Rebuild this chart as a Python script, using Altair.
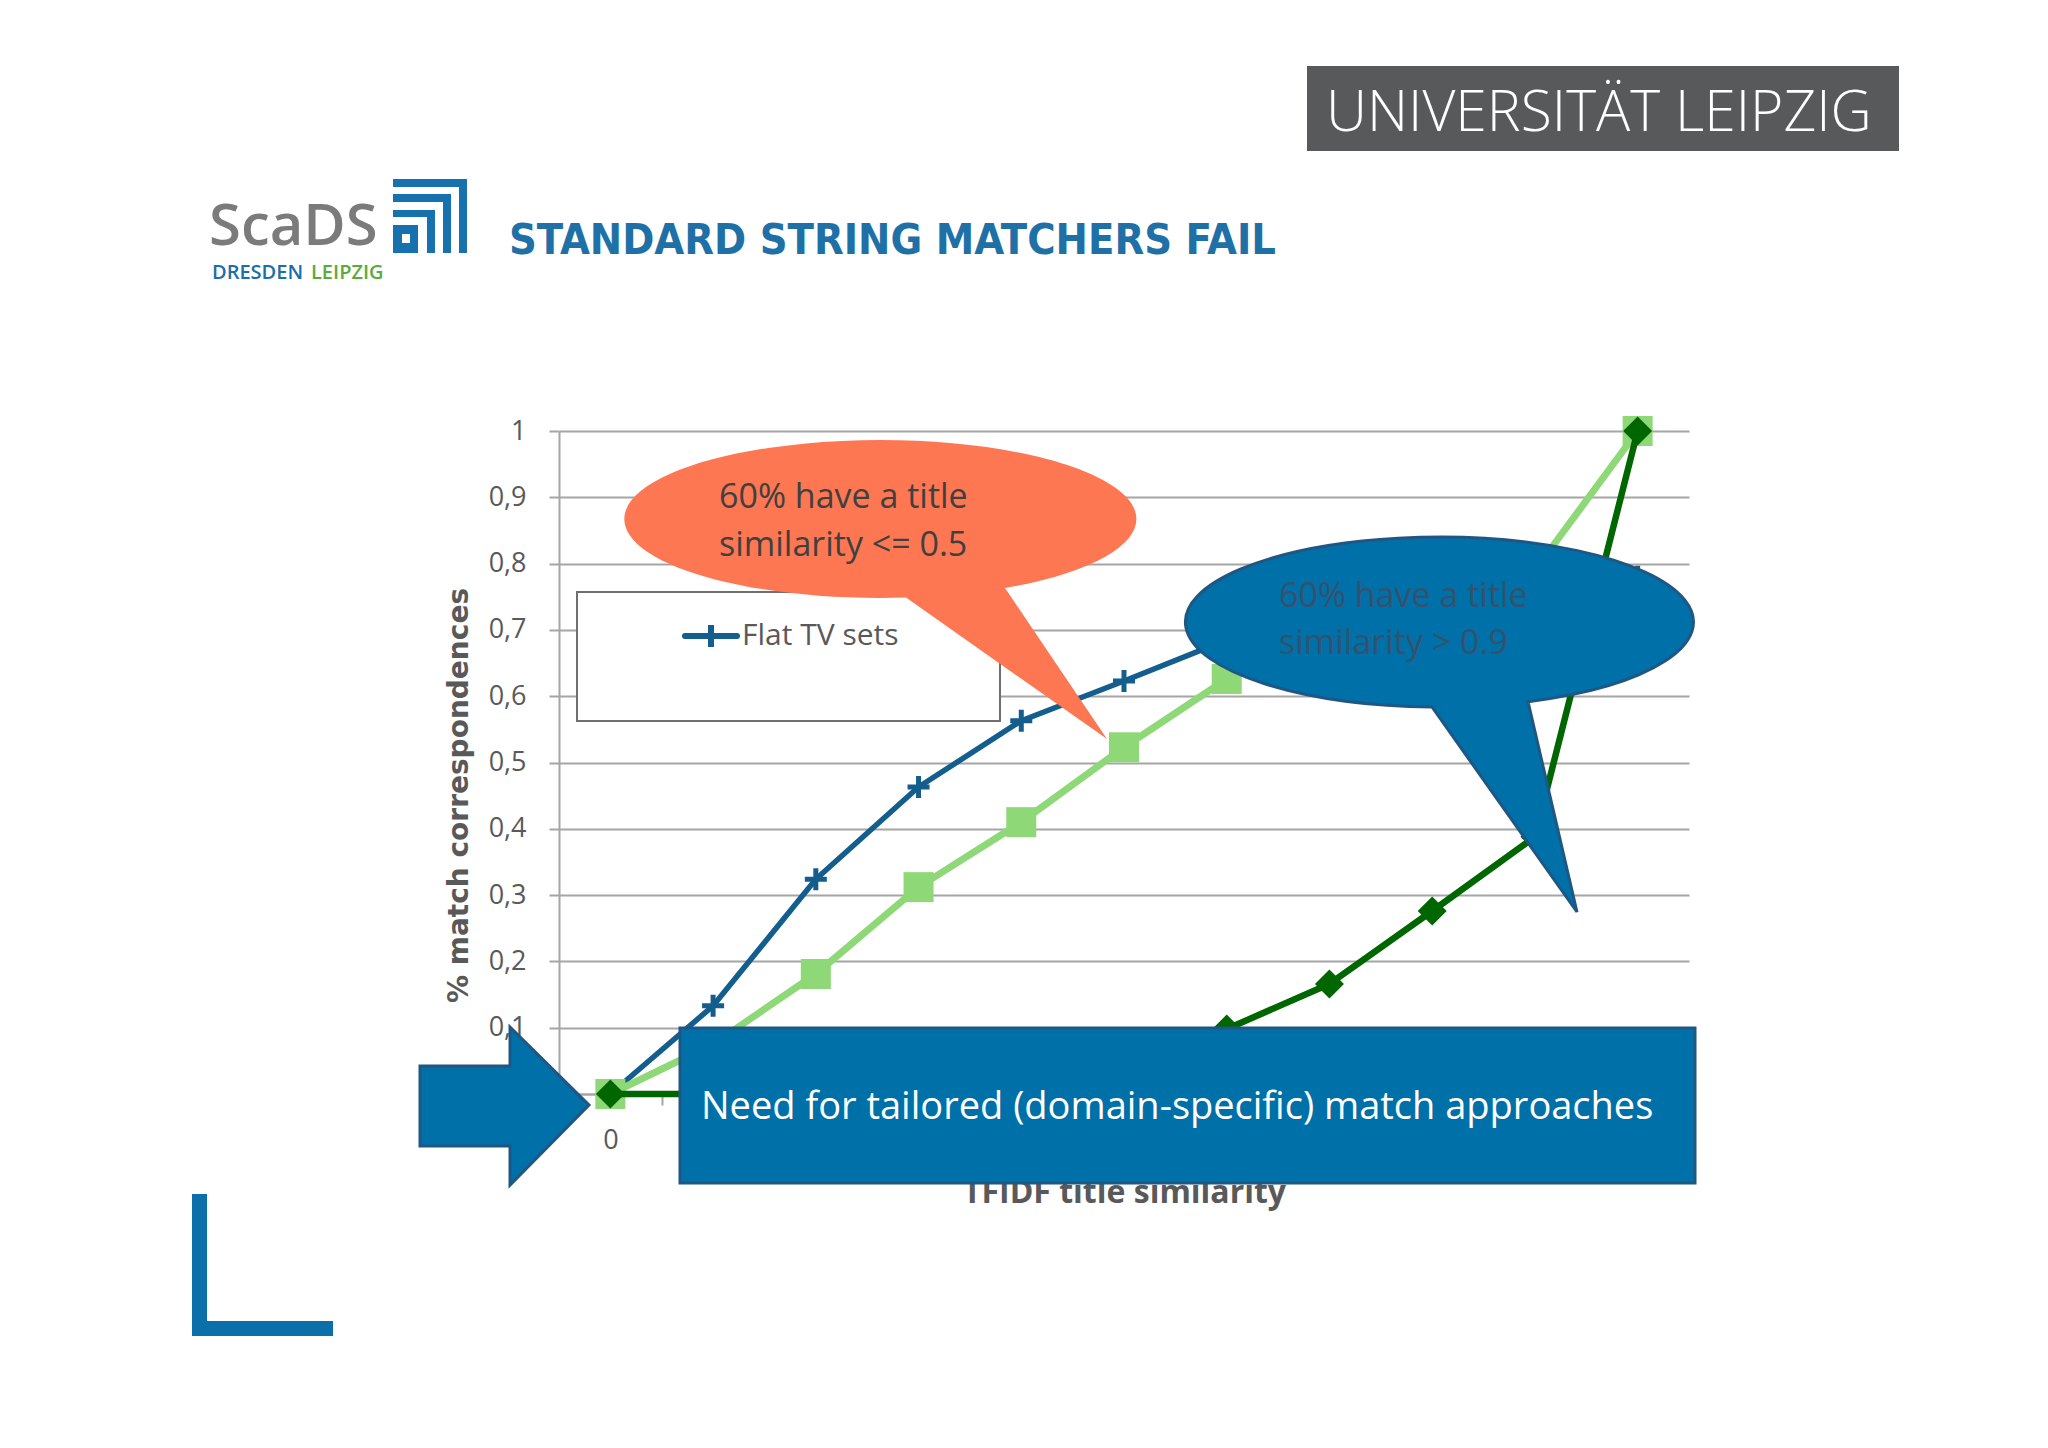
import altair as alt
import pandas as pd

# ---------------- data ----------------
similarity = [0.0, 0.1, 0.2, 0.3, 0.4, 0.5, 0.6, 0.7, 0.8, 0.9, 1.0]
flat_tv = [0.0, 0.133, 0.324, 0.463, 0.563, 0.623, 0.685, 0.72, 0.75, 0.77, 0.78]
series_light = [0.0, 0.075, 0.181, 0.312, 0.41, 0.523, 0.626, 0.69, 0.74, 0.79, 1.0]
series_dark = [0.0, 0.0, 0.01, 0.02, 0.04, 0.06, 0.098, 0.166, 0.276, 0.388, 1.0]
y_ticks = [0.0, 0.1, 0.2, 0.3, 0.4, 0.5, 0.6, 0.7, 0.8, 0.9, 1.0]
series_names = ["Flat TV sets", "Series 2", "Series 3"]
x_title = "TFIDF title similarity"
y_title = "% match correspondences"

BLUE_LINE = "#135E8D"
LIGHT_GREEN = "#8FD878"
DARK_GREEN = "#006600"
SHAPE_BLUE = "#0070A8"
SHAPE_EDGE = "#1F5784"
ORANGE = "#FD7753"
GRAY_TXT = "#595959"
GRID = "#A5A5A5"

W, H = 1130, 663
OX, OY = 559, 431          # page position of the plot origin
half = W / len(similarity) / 2

long = pd.concat([
    pd.DataFrame({"sim": similarity, "value": vals, "series": name})
    for name, vals in zip(series_names, [flat_tv, series_light, series_dark])
], ignore_index=True)

comma = "replace(format(datum.value, '~g'), '.', ',')"
# only the first category label is visible (the rest sit under the callout box)
x_label = "datum.value == 0 ? '0' : ''"

X = alt.X("sim:Q",
          scale=alt.Scale(domain=[-0.05, 1.05], nice=False, zero=False),
          axis=alt.Axis(values=similarity, labelExpr=x_label, grid=False,
                        tickOffset=half, labelOffset=-half, tickSize=11,
                        tickColor=GRID, tickWidth=2, domainColor=GRID, domainWidth=2,
                        labelFont="Open Sans", labelFontSize=27, labelColor=GRAY_TXT,
                        labelPadding=22, title=x_title, titleFont="Open Sans",
                        titleFontSize=32, titleFontWeight="bold", titleColor=GRAY_TXT,
                        titleX=1124 - OX, titleY=1203 - 1095, titleAlign="center",
                        titleBaseline="alphabetic"))
Y = alt.Y("value:Q",
          scale=alt.Scale(domain=[0, 1], nice=False),
          axis=alt.Axis(values=y_ticks, labelExpr=comma, grid=True, gridColor=GRID,
                        gridWidth=2, tickSize=10, tickColor=GRID, tickWidth=2,
                        domainColor=GRID, domainWidth=2, labelFont="Open Sans",
                        labelFontSize=27, labelColor=GRAY_TXT, labelPadding=23,
                        title=y_title, titleFont="DejaVu Sans", titleFontSize=28,
                        titleFontWeight="bold", titleColor=GRAY_TXT, titleAngle=270,
                        titleX=467 - OX, titleY=795 - OY, titleAlign="center",
                        titleBaseline="alphabetic"))

base = alt.Chart(long)
PLUS = "M -1 0 L 1 0 M 0 -1 L 0 1"


def series_layers(name, color, width, shape, size, filled, sw=0):
    d = base.transform_filter(alt.datum.series == name)
    line = d.mark_line(color=color, strokeWidth=width, strokeJoin="round",
                       strokeCap="round").encode(x=X, y=Y)
    if filled:
        pts = d.mark_point(shape=shape, size=size, filled=True, fill=color,
                           opacity=1, strokeWidth=0).encode(x=X, y=Y)
    else:
        pts = d.mark_point(shape=shape, size=size, filled=False, stroke=color,
                           strokeWidth=sw, opacity=1).encode(x=X, y=Y)
    return [line, pts]


one = pd.DataFrame({"k": [0]})


def rect(x0, y0, x1, y1, fill, stroke=None, sw=0):
    kw = dict(fill=fill)
    if stroke:
        kw.update(stroke=stroke, strokeWidth=sw)
    return alt.Chart(one).mark_rect(**kw).encode(
        x=alt.value(x0 - OX), x2=alt.value(x1 - OX),
        y=alt.value(y0 - OY), y2=alt.value(y1 - OY))


def text(s, x, y, size, color, font="Open Sans", weight="normal",
         align="left", baseline="alphabetic"):
    return alt.Chart(one).mark_text(text=s, align=align, baseline=baseline,
                                    font=font, fontSize=size, fontWeight=weight,
                                    color=color).encode(
        x=alt.value(x - OX), y=alt.value(y - OY))


def shape(path, cx, cy, fill, stroke=None, sw=0):
    kw = dict(shape=path, size=4, filled=True, fill=fill, opacity=1)
    if stroke:
        kw.update(stroke=stroke, strokeWidth=sw)
    else:
        kw.update(strokeWidth=0)
    return alt.Chart(one).mark_point(**kw).encode(
        x=alt.value(cx - OX), y=alt.value(cy - OY))


LOGO_BLUE = "#1671AE"
layers = [
    # header
    rect(1307, 66, 1899, 151, "#58595B"),
    text("UNIVERSITÄT LEIPZIG", 1326, 131, 57, "white", weight=300),
    text("ScaDS", 209, 245, 58, "#7B7B7B", weight=600),
    rect(393, 179, 467, 187, LOGO_BLUE), rect(459, 179, 467, 253, LOGO_BLUE),
    rect(393, 194, 451, 202, LOGO_BLUE), rect(443, 194, 451, 253, LOGO_BLUE),
    rect(393, 210, 435, 217, LOGO_BLUE), rect(427, 210, 435, 253, LOGO_BLUE),
    rect(393, 225, 418, 253, LOGO_BLUE), rect(402, 234, 410, 243, "white"),
    text("DRESDEN", 212, 279, 20, "#1A6FA8", weight=600),
    text("LEIPZIG", 311, 279, 20, "#5BAB3A", weight=600),
    text("STANDARD STRING MATCHERS FAIL", 509, 254, 43, "#1E70A6",
         font="Liberation Sans Narrow, DejaVu Sans Condensed, sans-serif", weight="bold"),
    rect(192, 1194, 207, 1336, "#0B6FA9"), rect(192, 1321, 333, 1336, "#0B6FA9"),
]

layers += series_layers(series_names[0], BLUE_LINE, 5.5, PLUS, 22 * 22, False, 5)
layers += series_layers(series_names[1], LIGHT_GREEN, 7, "square", 900, True)
layers += series_layers(series_names[2], DARK_GREEN, 6.5, "diamond", 841, True)

layers += [
    # legend box
    rect(577, 592, 1000, 721, "white", "#6F6F6F", 2),
    alt.Chart(one).mark_rule(color=BLUE_LINE, strokeWidth=6, strokeCap="round").encode(
        x=alt.value(685 - OX), x2=alt.value(737 - OX), y=alt.value(636 - OY)),
    alt.Chart(one).mark_point(shape=PLUS, size=22 * 22, filled=False, stroke=BLUE_LINE,
                              strokeWidth=6, opacity=1).encode(
        x=alt.value(711 - OX), y=alt.value(636 - OY)),
    text(series_names[0], 742, 636, 30, GRAY_TXT, baseline="middle"),
    # orange callout
    shape("M 125 69 A 256 79 0 1 0 26 78.6 L 227 220 Z", 880, 519, ORANGE),
    text("60% have a title", 719, 498, 34, "#404040", baseline="middle"),
    text("similarity <= 0.5", 719, 546, 34, "#404040", baseline="middle"),
    # blue callout
    shape("M 88 79.7 A 254 85 0 1 0 -8 85 L 137 290 Z", 1440, 622, SHAPE_BLUE, SHAPE_EDGE, 3),
    text("60% have a title", 1279, 597, 34, "#34526E", baseline="middle"),
    text("similarity > 0.9", 1279, 644, 34, "#34526E", baseline="middle"),
    # bottom box
    rect(680, 1028, 1695, 1183, SHAPE_BLUE, SHAPE_EDGE, 3),
    text("Need for tailored (domain-specific) match approaches", 701, 1108, 38,
         "white", baseline="middle"),
    # arrow
    shape("M -85 -40 L 5 -40 L 5 -79 L 84 -1 L 5 79 L 5 40 L -85 40 Z", 505, 1106,
          SHAPE_BLUE, SHAPE_EDGE, 3),
]

chart = alt.layer(*layers).properties(
    width=W, height=H,
    padding={"left": OX - 8, "top": OY - 8, "right": 2032 - (OX - 8) - W,
             "bottom": 1432 - (OY - 8) - H},
    autosize=alt.AutoSizeParams(type="none"),
    background="white",
).configure_view(strokeWidth=0)

chart.save("out.html", embed_options={"renderer": "svg", "actions": False})
